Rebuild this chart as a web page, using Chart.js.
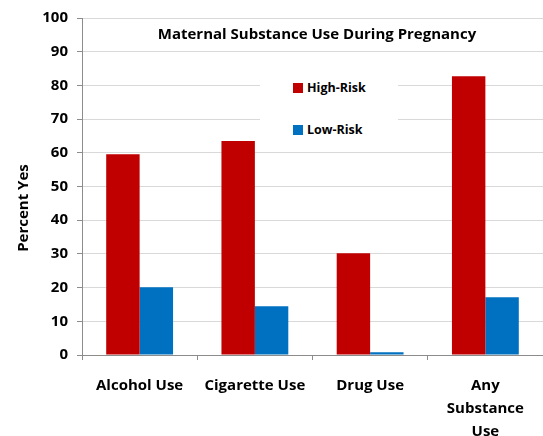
<!DOCTYPE html>
<html>
<head>
<meta charset="utf-8">
<script src="https://cdn.jsdelivr.net/npm/chart.js@4/dist/chart.umd.min.js"></script>
<style>
  html, body { margin: 0; padding: 0; background: #fff; }
  #wrap { position: relative; width: 543px; height: 436px; }
  #c { position: absolute; left: 0; top: 0; }
  #title { position: absolute; left: 117px; top: 23px; width: 400px; text-align: center; line-height: 20px;
    font: bold 15px "Open Sans", "Liberation Sans", sans-serif; color: #000; }
  #ytitle { position: absolute; left: 22px; top: 208px; width: 160px; height: 20px; margin-left: -80px; margin-top: -10px;
    text-align: center; line-height: 20px; transform: rotate(-90deg);
    font: bold 15px "Open Sans", "Liberation Sans", sans-serif; color: #000; white-space: nowrap; }
  #legend { position: absolute; left: 260px; top: 70px; width: 138px; height: 72px; background: #fff; }
  .item { position: absolute; left: 33px; line-height: 16px; font: bold 12.5px "Open Sans", "Liberation Sans", sans-serif; color: #000; white-space: nowrap; }
  .sw { display: inline-block; width: 10px; height: 10px; margin-right: 4px; vertical-align: -1px; }
</style>
</head>
<body>
<div id="wrap">
  <canvas id="c" width="543" height="436"></canvas>
  <div id="title"></div>
  <div id="ytitle"></div>
  <div id="legend"></div>
</div>
<script>
const chartTitle = "Maternal Substance Use During Pregnancy";
const categories = ["Alcohol Use", "Cigarette Use", "Drug Use", ["Any", "Substance", "Use"]];
const seriesNames = ["High-Risk", "Low-Risk"];
const highRisk = [59.6, 63.5, 30.2, 82.7];
const lowRisk = [20.1, 14.5, 0.8, 17.1];
const yTicks = [0, 10, 20, 30, 40, 50, 60, 70, 80, 90, 100];
const yTitle = "Percent Yes";
const colors = ["#C00000", "#0070C0"];

document.getElementById('title').textContent = chartTitle;
document.getElementById('ytitle').textContent = yTitle;
const seriesValues = [highRisk, lowRisk];
const leg = document.getElementById('legend');
seriesNames.forEach((n, i) => {
  const d = document.createElement('div');
  d.className = 'item';
  d.style.top = (9 + i * 42) + 'px';
  d.innerHTML = '<span class="sw" style="background:' + colors[i] + '"></span>';
  d.appendChild(document.createTextNode(n));
  leg.appendChild(d);
});

const fam = "'Open Sans', 'Liberation Sans', sans-serif";
const tickFont = { family: fam, size: 15, weight: 'bold' };
new Chart(document.getElementById('c'), {
  type: 'bar',
  data: {
    labels: categories,
    datasets: seriesNames.map((n, i) => ({
      label: n, data: seriesValues[i], backgroundColor: colors[i],
      borderWidth: 0, barPercentage: 1.0, categoryPercentage: 0.58
    }))
  },
  options: {
    responsive: false, animation: false,
    layout: { padding: { top: 10, right: 0, left: 0, bottom: 0 } },
    plugins: { legend: { display: false }, title: { display: false }, tooltip: { enabled: false } },
    scales: {
      x: {
        grid: { display: true, drawOnChartArea: false, drawTicks: true, tickLength: 5, color: '#8c8c8c', offset: true },
        border: { color: '#8c8c8c', width: 1 },
        ticks: { color: '#000', font: { ...tickFont, lineHeight: 1.53 }, padding: 14, maxRotation: 0, autoSkip: false },
        afterFit: s => { s.height = 81; }
      },
      y: {
        min: 0, max: 100,
        afterBuildTicks: s => { s.ticks = yTicks.map(v => ({ value: v })); },
        grid: { color: '#d9d9d9', tickColor: '#8c8c8c', tickLength: 5, drawTicks: true },
        border: { color: '#8c8c8c', width: 1 },
        ticks: { color: '#000', font: tickFont, padding: 9 },
        title: { display: false },
        afterFit: s => { s.width = 82; }
      }
    }
  }
});
</script>
</body>
</html>
